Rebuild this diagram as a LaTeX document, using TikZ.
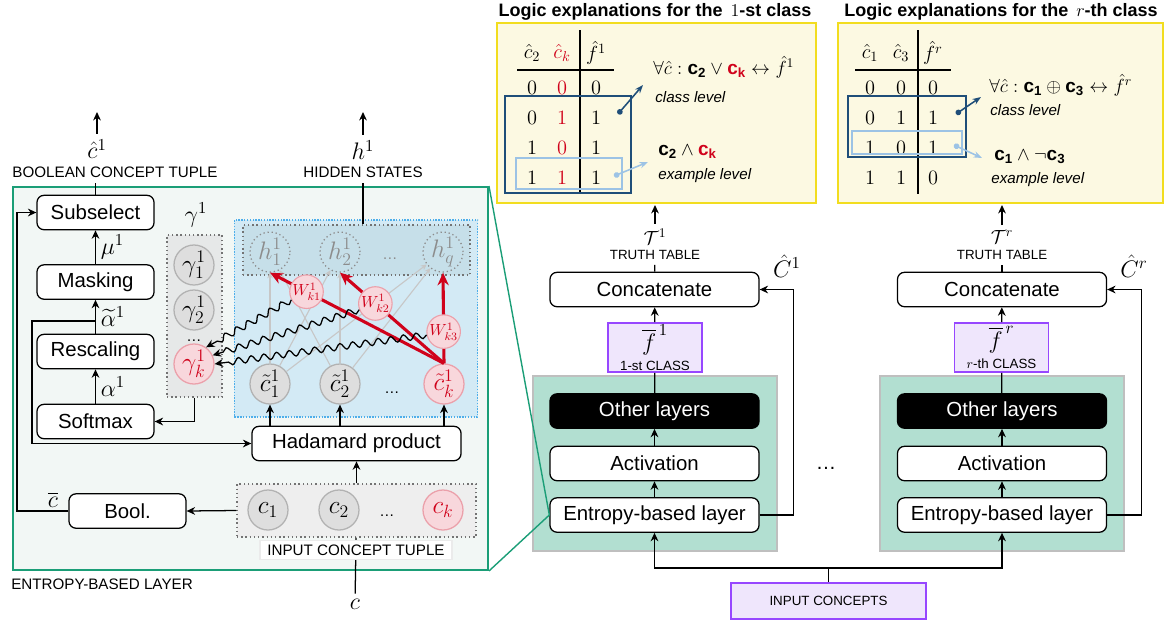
\RequirePackage{fix-cm}
\documentclass[tikz,border=0pt]{standalone}
\usepackage{amsmath,amssymb}
\usepackage[no-math]{fontspec}
\setmainfont{Liberation Sans}
\usetikzlibrary{arrows.meta,decorations.pathmorphing,positioning}
\definecolor{pgreen}{HTML}{1B9E77}
\definecolor{pfill}{HTML}{F2F7F5}
\definecolor{mint}{HTML}{B2DFD1}
\definecolor{lav}{HTML}{EFE6FC}
\definecolor{purp}{HTML}{9747FF}
\definecolor{cream}{HTML}{FCF9E2}
\definecolor{ylw}{HTML}{F2DD1F}
\definecolor{dblue}{HTML}{1F4E79}
\definecolor{lblue}{HTML}{9CC3E5}
\definecolor{redc}{HTML}{D0021B}
\definecolor{pinkf}{HTML}{F8D7DC}
\definecolor{pinkb}{HTML}{EBA0AA}
\definecolor{skyf}{HTML}{D3EAF5}
\definecolor{skyb}{HTML}{4DAEEA}
\definecolor{hidf}{HTML}{C6DFE9}
\definecolor{gamf}{HTML}{E6E8E8}
\definecolor{tupf}{HTML}{EEEEEE}
\newcommand\bxfont{\fontsize{14.5}{16}\selectfont}
\newcommand\lbfont{\fontsize{10.8}{12}\selectfont}
\newcommand\smfont{\fontsize{9.5}{10.5}\selectfont}
\newcommand\mfont{\fontsize{18}{20}\selectfont}
\newcommand\fmfont{\fontsize{13.5}{15}\selectfont}
\newcommand\mlfont{\fontsize{17}{19}\selectfont}
\newcommand\ttlfont{\fontsize{12.8}{14}\selectfont\bfseries}
\newcommand\bc[1]{\text{\bfseries c}_{\text{\bfseries #1}}}
\begin{document}
\begin{tikzpicture}[x=0.025cm,y=-0.025cm,line width=0.9pt,
  >={Stealth[length=6pt,width=5.5pt]},
  box/.style={draw,rounded corners=5pt,fill=white,minimum width=2.925cm,
    minimum height=0.86cm,inner sep=0pt,font=\bxfont},
  wide/.style={box,minimum width=5.225cm},
  dark/.style={wide,fill=black,text=white},
  gnode/.style={circle,draw=black!30,fill=black!13,minimum size=1cm,
    inner sep=0pt,font=\mfont},
  rnode/.style={gnode,draw=pinkb,fill=pinkf,text=redc},
  hnode/.style={circle,draw=black!45,dotted,minimum size=1cm,inner sep=0pt,
    text=black!45,font=\mfont},
  wnode/.style={circle,draw=pinkb,fill=pinkf,text=redc,minimum size=0.75cm,
    inner sep=0pt,line width=0.8pt,font=\fontsize{11.5}{12}\selectfont},
  group/.style={draw=black!55,dotted,line width=1pt,inner sep=0pt},
  cls/.style={draw=purp,fill=lav,line width=1.2pt,minimum width=2.35cm,
    minimum height=1.225cm,inner sep=0pt,align=center,font=\mlfont},
  redarr/.style={redc,line width=2.2pt,-{Stealth[length=9pt,width=8pt]}},
  wavy/.style={->,decorate,decoration={snake,amplitude=0.8mm,
    segment length=3.2mm,post length=2mm}},
  link/.style={black!22,line width=0.8pt,-{Stealth[length=4pt,width=4pt]}},
  tval/.style={font=\fontsize{14.5}{16}\selectfont},
  ttl/.style={font=\ttlfont},
  ybox/.style={draw=ylw,fill=cream,line width=1.3pt,minimum height=4.5cm,inner sep=0pt},
  gblock/.style={draw=black!25,fill=mint,line width=1pt,minimum width=6.1cm,
    minimum height=4.375cm,inner sep=0pt}]
\useasboundingbox (0,0) rectangle (1166,621);
\node[draw=pgreen,fill=pfill,line width=1.3pt,minimum width=11.875cm,
  minimum height=9.575cm,inner sep=0pt] (panel) at (250.5,378.5) {};
\node[draw=skyb,fill=skyf,densely dotted,line width=1pt,minimum width=6.075cm,
  minimum height=4.925cm,inner sep=0pt] (blue) at (356,318.5) {};
\node[group,fill=hidf,minimum width=5.675cm,minimum height=1.25cm] (hbox) at (356.5,250) {};
\node[group,fill=gamf,minimum width=1.375cm,minimum height=4.05cm] (gbox) at (194.5,316) {};
\node[group,fill=tupf,minimum width=5.975cm,minimum height=1.325cm] (tuple) at (356.5,510.5) {};
\node[box] (sub) at (95.5,212.5) {Subselect};
\node[box] (mask) at (95.5,282) {Masking};
\node[box] (resc) at (95.5,351.5) {Rescaling};
\node[box] (soft) at (95.5,421.5) {Softmax};
\node[box] (bool) at (127.5,511) {Bool.};
\node[wide] (hada) at (356.5,443.5) {Hadamard product};
\node[gnode] (g1) at (194,265) {$\gamma^1_1$};
\node[gnode] (g2) at (194,310) {$\gamma^1_2$};
\node[anchor=base,font=\lbfont] (gd) at (194,341) {\dots};
\node[rnode] (gk) at (194,364) {$\gamma^1_k$};
\node[hnode] (h1) at (270,252) {$h^1_1$};
\node[hnode] (h2) at (340,252) {$h^1_2$};
\node[anchor=base,text=black!45,font=\lbfont] (hd) at (390,259) {\dots};
\node[hnode] (hq) at (443,252) {$h^1_q$};
\node[gnode] (t1) at (270,384) {$\tilde{c}^1_1$};
\node[gnode] (t2) at (340,384) {$\tilde{c}^1_2$};
\node[anchor=base,font=\lbfont] (td) at (392,393) {\dots};
\node[rnode] (tk) at (444,384) {$\tilde{c}^1_k$};
\node[gnode] (c1) at (268,510) {$c_1$};
\node[gnode] (c2) at (339,510) {$c_2$};
\node[anchor=base,font=\lbfont] (cd) at (387,516) {\dots};
\node[rnode] (ck) at (443,510) {$c_k$};
\node[font=\lbfont] (btxt) at (115,172) {BOOLEAN CONCEPT TUPLE};
\node[font=\mlfont] (chat) at (97,149) {$\hat{c}^1$};
\coordinate (ctop) at (97,112);
\node[font=\lbfont] (htxt) at (363,172) {HIDDEN STATES};
\node[font=\mlfont] (hlab) at (363,150) {$h^1$};
\coordinate (htop) at (363,112);
\node[font=\mlfont] (glab) at (196,215) {$\gamma^1$};
\node[font=\lbfont] (elab) at (102,584) {ENTROPY-BASED LAYER};
\node[font=\mlfont] (cin) at (355,604) {$c$};
\node[font=\mlfont] (cbar) at (53,500) {$\overline{c}$};
\coordinate (asplit) at (95.5,321);
\draw (sub) -- (sub |- btxt.south);
\draw[->] (chat) -- (ctop);
\draw (hbox.north -| htxt) -- (htxt);
\draw[->] (hlab) -- (htop);
\draw[->] (mask) -- node[right,font=\mlfont] (mu) {$\mu^1$} (sub);
\draw[->] (resc) -- node[right,font=\mlfont] (at) {$\widetilde{\alpha}^1$} (mask);
\draw[->] (soft) -- node[right,font=\mlfont] (al) {$\alpha^1$} (resc);
\draw[->] (asplit) -- ++(-63.5,0) |- (hada);
\draw[->] (bool) -- ++(-110.5,0) |- (sub);
\draw[->] (tuple.west) -- (bool.east);
\draw[->] (tuple) -- (hada);
\draw[->] (gbox) |- (soft);
\draw (cin) -- (tuple);
\node[fill=white,draw=black!8,font=\lbfont,minimum width=4.8cm,minimum height=0.475cm,
  inner sep=0pt] (tlab) at (356,550) {INPUT CONCEPT TUPLE};
\draw[->] (hada.north -| t1) -- (t1);
\draw[->] (hada.north -| t2) -- (t2);
\draw[->] (hada.north -| tk) -- (tk);
\foreach \a in {t1,t2}
  \foreach \b in {h1,h2,hq}
    \draw[link] (\a) -- (\b);
\draw[redarr] (tk.north) -- node[wnode,pos=0.79] (w1) {$W^1_{k1}$} (h1.south);
\draw[redarr] (tk.north) -- node[wnode,pos=0.66] (w2) {$W^1_{k2}$} (h2.south);
\draw[redarr] (tk.north) -- node[wnode,pos=0.35] (w3) {$W^1_{k3}$} (hq.south);
\draw[wavy] (w1.208) -- (gk.54);
\draw[wavy] (w2.201) -- (gk.25);
\draw[wavy] (w3.191) -- (gk.0);

\node[ttl] (ttl1) at (655,12) {Logic explanations for the \,$1$-st class};
\node[ybox,minimum width=7.975cm] (yb1) at (656.5,113) {};
\draw (580,30) -- (580,194);
\draw (517,70) -- (614,70);
\path[tval]
  (532,53) node (a01) {$\hat{c}_2$} (562,53) node[text=redc] (a02) {$\hat{c}_k$} (596,53) node (a03) {$\hat{f}^1$}
  (532,88) node (a11) {$0$} (562,88) node[text=redc] (a12) {$0$} (596,88) node (a13) {$0$}
  (532,118) node (a21) {$0$} (562,118) node[text=redc] (a22) {$1$} (596,118) node (a23) {$1$}
  (532,148) node (a31) {$1$} (562,148) node[text=redc] (a32) {$0$} (596,148) node (a33) {$1$}
  (532,178) node (a41) {$1$} (562,178) node[text=redc] (a42) {$1$} (596,178) node (a43) {$1$};
\draw[dblue,line width=1.2pt] (505,96) rectangle (631,193);
\draw[lblue,line width=1.2pt] (516,158) rectangle (622,189);
\draw[dblue,line width=1.1pt,{Circle[length=4pt]}-{Stealth[length=6pt]}] (618,114) -- (643,85);
\draw[lblue,line width=1.1pt,{Circle[length=4pt]}-{Stealth[length=6pt]}] (614,176) -- (648,162);
\node[anchor=west,font=\fmfont] (fa1) at (648,67)
  {$\forall\hat{c}:\bc{2}\vee{\color{redc}\bc{k}}\leftrightarrow\hat{f}^1$};
\node[anchor=west,font=\lbfont\itshape] (cl1) at (650,97) {class level};
\node[anchor=west,font=\fmfont] (ea1) at (653,152) {$\bc{2}\wedge{\color{redc}\bc{k}}$};
\node[anchor=west,font=\lbfont\itshape] (el1) at (653,176) {example level};

\node[ttl] (ttl2) at (1001,12) {Logic explanations for the \,$r$-th class};
\node[ybox,minimum width=8.125cm] (yb2) at (1000.5,113) {};
\draw (918,30) -- (918,194);
\draw (855,70) -- (951,70);
\path[tval]
  (870,53) node (b01) {$\hat{c}_1$} (901,53) node (b02) {$\hat{c}_3$} (933,53) node (b03) {$\hat{f}^r$}
  (870,88) node (b11) {$0$} (901,88) node (b12) {$0$} (933,88) node (b13) {$0$}
  (870,118) node (b21) {$0$} (901,118) node (b22) {$1$} (933,118) node (b23) {$1$}
  (870,148) node (b31) {$1$} (901,148) node (b32) {$0$} (933,148) node (b33) {$1$}
  (870,178) node (b41) {$1$} (901,178) node (b42) {$1$} (933,178) node (b43) {$0$};
\draw[dblue,line width=1.2pt] (848,96) rectangle (966,157);
\draw[lblue,line width=1.2pt] (852,131) rectangle (962,154);
\draw[dblue,line width=1.1pt,{Circle[length=4pt]}-{Stealth[length=6pt]}] (956,114) -- (981,97);
\draw[lblue,line width=1.1pt,{Circle[length=4pt]}-{Stealth[length=6pt]}] (954,145) -- (982,158);
\node[anchor=west,font=\fmfont] (fa2) at (984,85)
  {$\forall\hat{c}:\bc{1}\oplus\bc{3}\leftrightarrow\hat{f}^r$};
\node[anchor=west,font=\lbfont\itshape] (cl2) at (985,110) {class level};
\node[anchor=west,font=\fmfont] (ea2) at (989,157) {$\bc{1}\wedge\neg\bc{3}$};
\node[anchor=west,font=\lbfont\itshape] (el2) at (986,180) {example level};

\node[font=\smfont] (tt1) at (655,255) {TRUTH TABLE};
\node[font=\fmfont] (T1) at (655,237) {$\mathcal{T}^1$};
\coordinate (tp1) at (655,205);
\node[wide] (con1) at (654.5,289.5) {Concatenate};
\node[font=\mlfont] (Ch1) at (787,266) {$\hat{C}^1$};
\node[gblock] (gb1) at (655,463.5) {};
\node[cls] (fb1) at (655,347.5) {$\overline{f}^{\,1}$\\[-5pt]{\smfont 1-st CLASS}};
\node[dark] (oth1) at (654.5,411) {Other layers};
\node[wide] (act1) at (654.5,463.5) {Activation};
\node[wide] (ent1) at (654.5,515) {Entropy-based layer};
\draw (con1) -- (tt1);
\draw[->] (T1) -- (tp1);
\draw[->] (fb1) -- (con1);
\draw (oth1) -- (fb1);
\draw[->] (act1) -- (oth1);
\draw[->] (ent1) -- (act1);
\draw[->] (ent1.east) -- ++(34,0) |- (con1.east);

\node[font=\smfont] (tt2) at (1002,255) {TRUTH TABLE};
\node[font=\fmfont] (T2) at (1002,237) {$\mathcal{T}^r$};
\coordinate (tp2) at (1002,205);
\node[wide] (con2) at (1002,289.5) {Concatenate};
\node[font=\mlfont] (Ch2) at (1134,266) {$\hat{C}^r$};
\node[gblock] (gb2) at (1002,463.5) {};
\node[cls] (fb2) at (1001.5,347.5) {$\overline{f}^{\,r}$\\[-5pt]{\smfont $r$-th CLASS}};
\node[dark] (oth2) at (1002,411) {Other layers};
\node[wide] (act2) at (1002,463.5) {Activation};
\node[wide] (ent2) at (1002,515) {Entropy-based layer};
\draw (con2) -- (tt2);
\draw[->] (T2) -- (tp2);
\draw[->] (fb2) -- (con2);
\draw (oth2) -- (fb2);
\draw[->] (act2) -- (oth2);
\draw[->] (ent2) -- (act2);
\draw[->] (ent2.east) -- ++(34,0) |- (con2.east);

\node[font=\bxfont] (mdots) at (826,468) {\dots};
\node[draw=purp,fill=lav,line width=1.2pt,minimum width=4.875cm,minimum height=0.9cm,
  inner sep=0pt,font=\smfont] (inc) at (828.5,601) {INPUT CONCEPTS};
\coordinate (isplit) at (828.5,568);
\draw (inc) -- (isplit);
\draw[->] (isplit) -| (ent1);
\draw[->] (isplit) -| (ent2);
\draw[pgreen,line width=1pt] (panel.north east) -- (ent1.west);
\draw[pgreen,line width=1pt] (panel.south east) -- (ent1.west);
\end{tikzpicture}
\end{document}
